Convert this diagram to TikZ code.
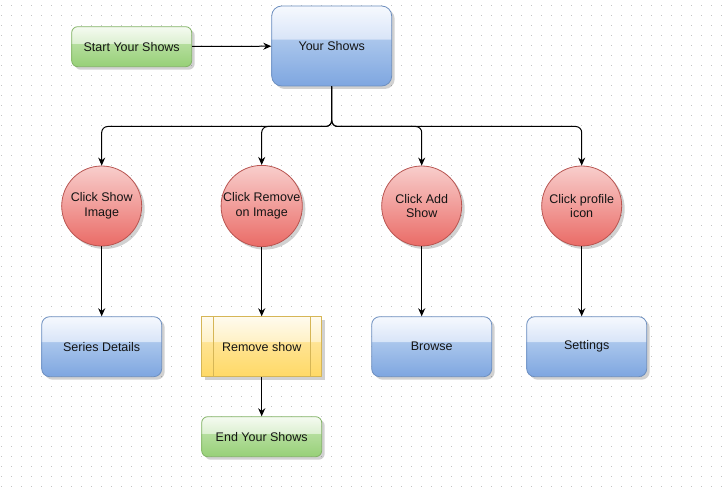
\documentclass[tikz,border=0pt]{standalone}
\usepackage{fontspec}
\setmainfont{Liberation Sans}
\usetikzlibrary{arrows.meta,shadows}
\definecolor{txt}{HTML}{141414}
\definecolor{gridc}{HTML}{C4C4C4}
% blue
\definecolor{bB}{HTML}{7EA6E0}
\definecolor{bM}{HTML}{AAC6EC}
\definecolor{bL}{HTML}{D9E5F8}
\definecolor{bT}{HTML}{F6F9FE}
\definecolor{bD}{HTML}{6C8EBF}
% green
\definecolor{gB}{HTML}{97D077}
\definecolor{gM}{HTML}{B5DE9E}
\definecolor{gL}{HTML}{DDF0D2}
\definecolor{gT}{HTML}{F5FBF1}
\definecolor{gD}{HTML}{82B366}
% yellow
\definecolor{yB}{HTML}{FFD966}
\definecolor{yM}{HTML}{FFE494}
\definecolor{yL}{HTML}{FFF1C6}
\definecolor{yT}{HTML}{FFFBEE}
\definecolor{yD}{HTML}{D6B656}
% red
\definecolor{rB}{HTML}{EA6B66}
\definecolor{rT}{HTML}{F8CECC}
\definecolor{rD}{HTML}{B85450}
\pgfdeclareverticalshading{blueglossy}{100bp}{color(0bp)=(bB); color(25bp)=(bB); color(54bp)=(bM); color(54.6bp)=(bL); color(75bp)=(bT); color(100bp)=(bT)}
\pgfdeclareverticalshading{greenglossy}{100bp}{color(0bp)=(gB); color(25bp)=(gB); color(54bp)=(gM); color(54.6bp)=(gL); color(75bp)=(gT); color(100bp)=(gT)}
\pgfdeclareverticalshading{yellowglossy}{100bp}{color(0bp)=(yB); color(25bp)=(yB); color(54bp)=(yM); color(54.6bp)=(yL); color(75bp)=(yT); color(100bp)=(yT)}
\tikzset{
  base/.style={line width=0.8pt, font=\fontsize{12.5}{14.5}\selectfont, text=txt, inner sep=0pt, align=center,
    drop shadow={shadow xshift=3pt, shadow yshift=-3pt, fill=black, opacity=0.18}},
  greenbox/.style={base, draw=gD, shading=greenglossy, rounded corners=6pt, minimum width=120pt, minimum height=40pt},
  bluebox/.style={base, draw=bD, shading=blueglossy, rounded corners=8pt, minimum width=120pt, minimum height=60pt},
  yellowbox/.style={base, draw=yD, shading=yellowglossy, minimum width=120pt, minimum height=60pt},
  redcircle/.style={base, circle, draw=rD, top color=rT, bottom color=rB, minimum size=80pt},
  conn/.style={line width=1pt, draw=black, -{Stealth[length=8pt,width=7pt]}},
}
\begin{document}
\begin{tikzpicture}[x=1pt,y=-1pt]
\useasboundingbox (0,0) rectangle (728,489);
\fill[white] (0,0) rectangle (728,489);
\foreach \i in {0,...,72}{
  \foreach \j in {0,...,48}{
    \fill[gridc] (1+10*\i-0.5,6+10*\j-0.5) rectangle ++(1,1);
  }
}
\node[greenbox] (start) at (131.7,46.7) {Start Your Shows};
\node[bluebox, minimum height=80pt, rounded corners=10pt] (ys) at (331.7,46) {Your Shows};
\node[redcircle] (c1) at (101.7,206) {Click Show\\Image};
\node[redcircle] (c2) at (261.7,206) {Click Remove\\on Image};
\node[redcircle] (c3) at (421.7,206) {Click Add\\Show};
\node[redcircle] (c4) at (581.7,206) {Click profile\\icon};
\node[bluebox] (sd) at (101.7,346.7) {Series Details};
\node[yellowbox] (rs) at (261.7,346.7) {Remove show};
\draw[yD, line width=0.8pt] ([xshift=12pt]rs.north west) -- ([xshift=12pt]rs.south west);
\draw[yD, line width=0.8pt] ([xshift=-12pt]rs.north east) -- ([xshift=-12pt]rs.south east);
\node[bluebox] (br) at (431.7,346.7) {Browse};
\node[bluebox] (st) at (586.7,346.7) {Settings};
\node[greenbox] (end) at (261.7,436.7) {End Your Shows};
\coordinate (j) at (331.7,126.5);
\draw[conn] (start) -- (ys);
\foreach \c in {c1,c2,c3,c4}{
  \draw[conn, rounded corners=6pt] (ys.south) |- (j) -| (\c.north);
}
\draw[conn] (c1.south) -- (c1.south |- sd.north);
\draw[conn] (c2.south) -- (c2.south |- rs.north);
\draw[conn] (c3.south) -- (c3.south |- br.north);
\draw[conn] (c4.south) -- (c4.south |- st.north);
\draw[conn] (rs) -- (end);
\end{tikzpicture}
\end{document}
